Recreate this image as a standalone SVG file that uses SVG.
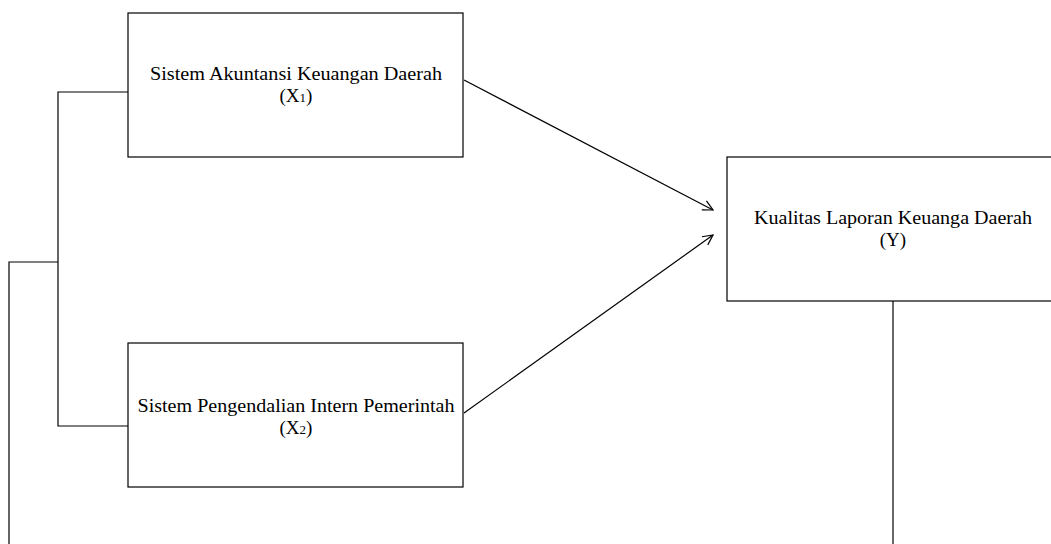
<svg xmlns="http://www.w3.org/2000/svg" width="1051" height="544" viewBox="0 0 1051 544">
<style>
.box{fill:#fff;stroke:#000;stroke-width:1.2}
.ln{fill:none;stroke:#000;stroke-width:1.2}
.t{font-family:"Liberation Serif","Times New Roman",serif;font-size:19px;fill:#000;text-anchor:middle}
</style>
<defs>
<marker id="arr" viewBox="0 0 12 12" refX="11" refY="6" markerWidth="12" markerHeight="12" markerUnits="userSpaceOnUse" orient="auto">
<path d="M1,1 L11,6 L1,11" fill="none" stroke="#000" stroke-width="1.2"/>
</marker>
</defs>
<rect width="1051" height="544" fill="#fff"/>
<g id="connectors">
<polyline class="ln" points="128,92 58,92 58,426 128,426"/>
<polyline class="ln" points="58,262 9,262 9,544"/>
<line class="ln" x1="893" y1="301" x2="893" y2="544"/>
<line class="ln" x1="464" y1="80" x2="713" y2="210" marker-end="url(#arr)"/>
<line class="ln" x1="464" y1="413" x2="713" y2="235" marker-end="url(#arr)"/>
</g>
<g id="node-x1">
<rect class="box" x="128" y="13" width="335" height="144"/>
<text class="t" x="296" y="80" textLength="292" lengthAdjust="spacingAndGlyphs">Sistem Akuntansi Keuangan Daerah</text>
<text class="t" x="296" y="102">(X<tspan font-size="13">1</tspan>)</text>
</g>
<g id="node-x2">
<rect class="box" x="128" y="343" width="335" height="144"/>
<text class="t" x="296" y="412" textLength="317" lengthAdjust="spacingAndGlyphs">Sistem Pengendalian Intern Pemerintah</text>
<text class="t" x="296" y="434">(X<tspan font-size="13">2</tspan>)</text>
</g>
<g id="node-y">
<rect class="box" x="727" y="157" width="340" height="144"/>
<text class="t" x="893" y="224" textLength="278" lengthAdjust="spacingAndGlyphs">Kualitas Laporan Keuanga Daerah</text>
<text class="t" x="893" y="246">(Y)</text>
</g>
</svg>
